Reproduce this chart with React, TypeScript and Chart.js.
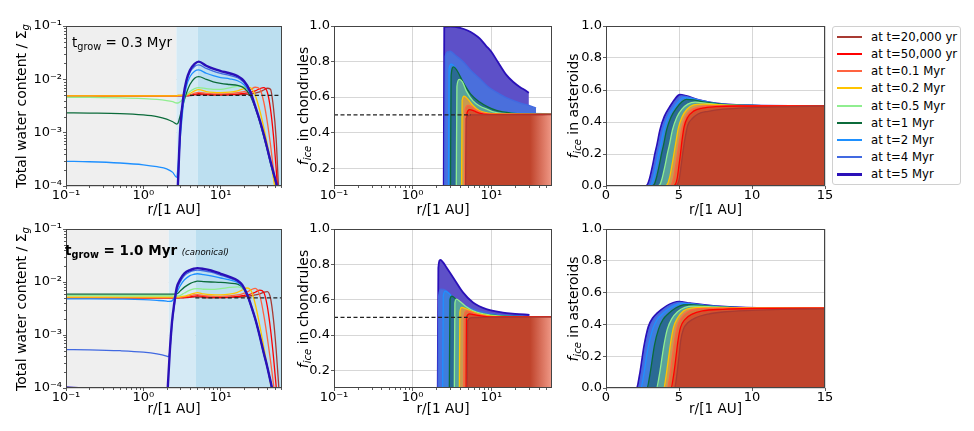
import { useEffect, useRef } from 'react';
import { Chart, registerables } from 'chart.js';

Chart.register(...registerables);

const FONT = '"DejaVu Sans", "Liberation Sans", sans-serif';
Chart.defaults.font.family = FONT;

// ---------- snapshots (oldest first) ----------
const SERIES_LABELS = [
  'at t=20,000 yr',
  'at t=50,000 yr',
  'at t=0.1 Myr',
  'at t=0.2 Myr',
  'at t=0.5 Myr',
  'at t=1 Myr',
  'at t=2 Myr',
  'at t=4 Myr',
  'at t=5 Myr',
];
const LINE_COLORS = ['#a83a32', '#ff0000', '#ff6340', '#ffc400', '#90ee90', '#0b6b3a', '#1e90ff', '#4169e1', '#2a10b8'];
const BAND_COLORS = ['#c0442c', '#d4532f', '#d9743f', '#c99a50', '#58a39c', '#2b6a94', '#3f7ddc', '#4a6fdc', '#5d50c8'];

// ---------- total water content / Σg, t_grow = 0.3 Myr ----------
const WATER_R_03 = [0.1, 0.2, 0.5, 1, 1.5, 2, 2.4, 2.7, 2.8, 3.0, 3.3, 3.6, 4.0, 4.6, 5.2, 6.5, 8, 10, 13, 16.5, 20, 24, 28, 32, 36, 40, 44, 48, 52, 56, 60];
const WATER_03 = [
  [4.9e-3, 4.9e-3, 4.9e-3, 4.9e-3, 4.9e-3, 4.9e-3, 4.9e-3, 4.9e-3, 4.9e-3, 4.9e-3, 4.9e-3, 4.9e-3, 4.95e-3, 5.1e-3, 5.2e-3, 5.1e-3, 5.05e-3, 5.05e-3, 5.1e-3, 5.15e-3, 5.2e-3, 5.3e-3, 5.5e-3, 5.8e-3, 6.3e-3, 6.8e-3, 6.5e-3, 3.0e-3, 8.0e-4, 9.0e-5, 2.0e-5],
  [4.9e-3, 4.9e-3, 4.9e-3, 4.9e-3, 4.9e-3, 4.9e-3, 4.9e-3, 4.9e-3, 4.95e-3, 4.95e-3, 4.95e-3, 4.95e-3, 5.0e-3, 5.25e-3, 5.4e-3, 5.25e-3, 5.15e-3, 5.15e-3, 5.2e-3, 5.3e-3, 5.45e-3, 5.7e-3, 6.1e-3, 6.7e-3, 7.0e-3, 5.8e-3, 2.8e-3, 9.0e-4, 2.2e-4, 5.0e-5, 1.0e-5],
  [4.9e-3, 4.9e-3, 4.9e-3, 4.9e-3, 4.9e-3, 4.9e-3, 4.9e-3, 4.9e-3, 5.0e-3, 5.0e-3, 5.0e-3, 5.0e-3, 5.1e-3, 5.5e-3, 5.7e-3, 5.45e-3, 5.35e-3, 5.35e-3, 5.4e-3, 5.6e-3, 5.9e-3, 6.4e-3, 7.1e-3, 6.6e-3, 3.8e-3, 1.6e-3, 6.0e-4, 2.1e-4, 7.0e-5, 2.0e-5, 1.0e-5],
  [4.9e-3, 4.9e-3, 4.9e-3, 4.9e-3, 4.9e-3, 4.9e-3, 4.9e-3, 4.9e-3, 5.0e-3, 5.0e-3, 5.05e-3, 5.1e-3, 5.4e-3, 6.1e-3, 6.4e-3, 5.9e-3, 5.7e-3, 5.65e-3, 5.75e-3, 6.1e-3, 6.7e-3, 7.0e-3, 5.0e-3, 2.6e-3, 1.25e-3, 6.0e-4, 3.0e-4, 1.4e-4, 6.0e-5, 2.0e-5, 1.0e-5],
  [4.6e-3, 4.6e-3, 4.5e-3, 4.35e-3, 4.2e-3, 4.0e-3, 3.8e-3, 3.6e-3, 3.6e-3, 3.8e-3, 4.4e-3, 5.1e-3, 5.9e-3, 6.7e-3, 7.0e-3, 6.7e-3, 6.5e-3, 6.5e-3, 6.9e-3, 7.4e-3, 7.3e-3, 5.6e-3, 3.1e-3, 1.6e-3, 8.7e-4, 4.8e-4, 2.7e-4, 1.7e-4, 1.1e-4, 6.5e-5, 3.0e-5],
  [2.35e-3, 2.33e-3, 2.28e-3, 2.15e-3, 2.0e-3, 1.8e-3, 1.6e-3, 1.45e-3, 1.5e-3, 2.1e-3, 3.6e-3, 5.5e-3, 8.0e-3, 1.05e-2, 1.12e-2, 1.0e-2, 9.0e-3, 8.4e-3, 8.0e-3, 7.7e-3, 6.9e-3, 5.0e-3, 2.9e-3, 1.6e-3, 8.6e-4, 4.8e-4, 2.7e-4, 1.7e-4, 1.1e-4, 6.5e-5, 3.0e-5],
  [2.9e-4, 2.85e-4, 2.7e-4, 2.5e-4, 2.3e-4, 2.1e-4, 1.8e-4, 1.45e-4, 2.2e-4, 8.0e-4, 3.5e-3, 7.3e-3, 1.12e-2, 1.42e-2, 1.5e-2, 1.3e-2, 1.17e-2, 1.08e-2, 1.02e-2, 9.4e-3, 7.9e-3, 5.5e-3, 3.0e-3, 1.65e-3, 8.9e-4, 4.9e-4, 2.8e-4, 1.75e-4, 1.13e-4, 6.8e-5, 3.2e-5],
  [4e-5, 4e-5, 4e-5, 4e-5, 4e-5, 4e-5, 4e-5, 4e-5, 1.0e-4, 1.0e-3, 4.4e-3, 8.7e-3, 1.35e-2, 1.75e-2, 1.86e-2, 1.6e-2, 1.42e-2, 1.29e-2, 1.19e-2, 1.07e-2, 8.7e-3, 5.8e-3, 3.05e-3, 1.68e-3, 9.1e-4, 5.0e-4, 2.85e-4, 1.78e-4, 1.15e-4, 7.0e-5, 3.4e-5],
  [3e-5, 3e-5, 3e-5, 3e-5, 3e-5, 3e-5, 3e-5, 3e-5, 1.1e-4, 1.2e-3, 4.8e-3, 9.5e-3, 1.48e-2, 1.95e-2, 2.15e-2, 1.8e-2, 1.58e-2, 1.43e-2, 1.3e-2, 1.15e-2, 9.3e-3, 6.0e-3, 3.1e-3, 1.7e-3, 9.3e-4, 5.1e-4, 2.9e-4, 1.8e-4, 1.17e-4, 7.0e-5, 3.5e-5],
];
const WATER_ZONES_03 = [0.1, 2.68, 5.07, 62];
const WATER_REF_03 = [[4.0, 5e-3], [57, 5e-3]];

// ---------- total water content / Σg, t_grow = 1.0 Myr ----------
const WATER_R_10 = [0.1, 0.2, 0.5, 1, 1.5, 2.0, 2.1, 2.2, 2.35, 2.5, 2.7, 3.0, 3.4, 4.0, 4.5, 5.0, 6.0, 7.5, 10, 13, 16.5, 19, 22, 25, 28, 32, 36, 40, 44, 48, 52, 56, 60];
const WATER_10 = [
  [5.0e-3, 5.0e-3, 5.0e-3, 5.0e-3, 5.0e-3, 5.0e-3, 5.0e-3, 5.0e-3, 5.0e-3, 5.0e-3, 5.0e-3, 5.0e-3, 5.05e-3, 5.15e-3, 5.2e-3, 5.25e-3, 5.1e-3, 5.05e-3, 5.05e-3, 5.1e-3, 5.15e-3, 5.25e-3, 5.35e-3, 5.5e-3, 5.7e-3, 6.0e-3, 6.4e-3, 6.6e-3, 5.0e-3, 2.0e-3, 5.5e-4, 1.2e-4, 2.0e-5],
  [5.0e-3, 5.0e-3, 5.0e-3, 5.0e-3, 5.0e-3, 5.0e-3, 5.0e-3, 5.0e-3, 5.0e-3, 5.0e-3, 5.0e-3, 5.05e-3, 5.1e-3, 5.25e-3, 5.4e-3, 5.5e-3, 5.3e-3, 5.2e-3, 5.15e-3, 5.2e-3, 5.35e-3, 5.5e-3, 5.7e-3, 6.0e-3, 6.4e-3, 7.0e-3, 6.4e-3, 3.5e-3, 1.3e-3, 4.0e-4, 1.1e-4, 3.0e-5, 1.0e-5],
  [5.1e-3, 5.1e-3, 5.1e-3, 5.1e-3, 5.1e-3, 5.1e-3, 5.1e-3, 5.1e-3, 5.1e-3, 5.1e-3, 5.1e-3, 5.15e-3, 5.25e-3, 5.5e-3, 5.7e-3, 5.8e-3, 5.55e-3, 5.4e-3, 5.35e-3, 5.45e-3, 5.7e-3, 6.0e-3, 6.5e-3, 7.2e-3, 7.6e-3, 5.6e-3, 2.4e-3, 9.0e-4, 3.3e-4, 1.2e-4, 4.0e-5, 1.0e-5, 1.0e-5],
  [5.2e-3, 5.2e-3, 5.2e-3, 5.2e-3, 5.2e-3, 5.2e-3, 5.2e-3, 5.2e-3, 5.2e-3, 5.2e-3, 5.2e-3, 5.25e-3, 5.4e-3, 5.8e-3, 6.1e-3, 6.3e-3, 5.95e-3, 5.75e-3, 5.7e-3, 5.9e-3, 6.4e-3, 7.1e-3, 7.7e-3, 6.6e-3, 3.8e-3, 1.5e-3, 6.0e-4, 2.6e-4, 1.2e-4, 5.0e-5, 2.0e-5, 1.0e-5, 1.0e-5],
  [5.55e-3, 5.55e-3, 5.5e-3, 5.5e-3, 5.5e-3, 5.5e-3, 5.5e-3, 5.5e-3, 5.5e-3, 5.45e-3, 5.45e-3, 5.6e-3, 6.2e-3, 7.0e-3, 7.4e-3, 7.5e-3, 7.3e-3, 7.25e-3, 7.5e-3, 7.9e-3, 8.1e-3, 7.6e-3, 5.9e-3, 3.7e-3, 2.1e-3, 1.0e-3, 4.8e-4, 2.5e-4, 1.35e-4, 7.0e-5, 4.0e-5, 2.0e-5, 1.0e-5],
  [5.9e-3, 5.9e-3, 5.9e-3, 5.9e-3, 5.9e-3, 5.9e-3, 5.9e-3, 5.9e-3, 5.9e-3, 5.92e-3, 5.95e-3, 6.8e-3, 8.0e-3, 9.3e-3, 1.0e-2, 1.04e-2, 1.02e-2, 1.0e-2, 9.8e-3, 9.5e-3, 9.1e-3, 8.0e-3, 5.6e-3, 3.4e-3, 2.0e-3, 9.5e-4, 4.6e-4, 2.5e-4, 1.35e-4, 7.5e-5, 4.0e-5, 2.0e-5, 1.0e-5],
  [4.8e-3, 4.8e-3, 4.75e-3, 4.65e-3, 4.5e-3, 4.35e-3, 4.3e-3, 4.3e-3, 4.4e-3, 5.0e-3, 6.3e-3, 8.5e-3, 1.1e-2, 1.32e-2, 1.4e-2, 1.43e-2, 1.38e-2, 1.3e-2, 1.19e-2, 1.1e-2, 9.8e-3, 8.2e-3, 5.6e-3, 3.3e-3, 1.95e-3, 9.2e-4, 4.5e-4, 2.4e-4, 1.3e-4, 7.0e-5, 4.0e-5, 2.0e-5, 1.0e-5],
  [5.3e-4, 5.25e-4, 5.05e-4, 4.75e-4, 4.4e-4, 4.0e-4, 3.9e-4, 5.0e-4, 1.6e-3, 3.4e-3, 6.8e-3, 1.0e-2, 1.32e-2, 1.55e-2, 1.64e-2, 1.67e-2, 1.63e-2, 1.53e-2, 1.34e-2, 1.18e-2, 1.02e-2, 8.5e-3, 5.7e-3, 3.3e-3, 1.95e-3, 9.3e-4, 4.5e-4, 2.45e-4, 1.3e-4, 7.0e-5, 4.0e-5, 2.0e-5, 1.0e-5],
  [1.02e-4, 9.6e-5, 8.5e-5, 7.2e-5, 6.2e-5, 5.5e-5, 1.5e-4, 5.0e-4, 1.8e-3, 3.8e-3, 7.8e-3, 1.12e-2, 1.45e-2, 1.68e-2, 1.78e-2, 1.83e-2, 1.77e-2, 1.65e-2, 1.43e-2, 1.25e-2, 1.07e-2, 8.8e-3, 5.8e-3, 3.4e-3, 2.0e-3, 9.5e-4, 4.6e-4, 2.5e-4, 1.35e-4, 7.5e-5, 4.0e-5, 2.0e-5, 1.0e-5],
];
const WATER_ZONES_10 = [0.1, 2.13, 4.73, 62];
const WATER_REF_10 = [[4.7, 5e-3], [60, 5e-3]];

// ---------- f_ice in chondrules: [r, f_ice] ----------
const CHOND_03 = [
  [[4.7, 0.05], [4.78, 0.48], [5.5, 0.5], [8, 0.5], [40, 0.5], [59, 0.502]],
  [[4.83, 0.05], [4.9, 0.51], [5.3, 0.53], [6, 0.522], [7, 0.51], [9, 0.503], [59, 0.503]],
  [[4.58, 0.05], [4.65, 0.53], [5.05, 0.553], [5.6, 0.545], [6.5, 0.525], [8, 0.51], [11, 0.503], [59, 0.503]],
  [[4.18, 0.05], [4.25, 0.58], [4.5, 0.606], [5, 0.59], [5.8, 0.555], [7, 0.525], [9, 0.51], [12, 0.505], [59, 0.503]],
  [[3.58, 0.05], [3.65, 0.66], [3.9, 0.7], [4.3, 0.685], [4.8, 0.635], [5.8, 0.58], [7.1, 0.55], [9, 0.53], [11, 0.515], [18, 0.505], [59, 0.503]],
  [[3.02, 0.05], [3.08, 0.72], [3.3, 0.77], [3.6, 0.755], [4.36, 0.685], [5.5, 0.615], [7.1, 0.572], [9, 0.545], [11.6, 0.525], [18, 0.51], [30, 0.505], [59, 0.503]],
  [[2.85, 0.05], [2.9, 0.76], [3.1, 0.785], [3.4, 0.77], [4, 0.71], [5, 0.63], [6, 0.585], [7.5, 0.55], [10, 0.53], [14, 0.515], [20, 0.51], [30, 0.508], [59, 0.506]],
  [[2.55, 0.05], [2.6, 0.83], [2.8, 0.855], [3.0, 0.858], [3.5, 0.835], [4.36, 0.8], [5.5, 0.75], [7.1, 0.705], [9, 0.66], [11.6, 0.628], [15, 0.6], [18.8, 0.582], [24, 0.565], [30, 0.553], [37, 0.538]],
  [[2.48, 0.05], [2.52, 0.995], [3, 0.997], [4, 0.99], [5, 0.975], [6, 0.955], [7.1, 0.93], [8.5, 0.89], [10, 0.855], [12, 0.8], [15.5, 0.725], [19, 0.685], [23, 0.657], [27, 0.638], [30, 0.625]],
];
const CHOND_REF_03 = [[0.1, 0.5], [5.5, 0.5]];

const CHOND_10 = [
  [[4.92, 0.05], [5, 0.48], [5.6, 0.498], [8, 0.5], [59, 0.502]],
  [[4.77, 0.05], [4.83, 0.5], [5.3, 0.52], [6, 0.515], [8, 0.505], [12, 0.502], [59, 0.503]],
  [[4.45, 0.05], [4.52, 0.51], [4.85, 0.537], [5.4, 0.532], [6.5, 0.518], [9, 0.506], [15, 0.503], [59, 0.503]],
  [[3.92, 0.05], [3.98, 0.53], [4.2, 0.556], [4.7, 0.55], [5.5, 0.535], [7, 0.518], [10, 0.507], [20, 0.503], [59, 0.503]],
  [[3.38, 0.05], [3.44, 0.58], [3.6, 0.603], [4, 0.59], [4.8, 0.56], [6, 0.535], [8, 0.52], [12, 0.508], [20, 0.504], [59, 0.503]],
  [[2.92, 0.05], [2.98, 0.6], [3.15, 0.62], [3.5, 0.605], [4.2, 0.57], [5.5, 0.54], [8, 0.52], [12, 0.51], [20, 0.505], [59, 0.503]],
  [[2.4, 0.05], [2.45, 0.62], [2.6, 0.648], [2.9, 0.635], [3.4, 0.6], [4.2, 0.567], [5.5, 0.54], [8, 0.52], [12, 0.51], [20, 0.505], [59, 0.503]],
  [[2.1, 0.05], [2.14, 0.62], [2.3, 0.66], [2.6, 0.655], [3, 0.63], [3.5, 0.6], [4.5, 0.57], [6, 0.545], [9, 0.525], [14, 0.513], [25, 0.506], [40, 0.503], [59, 0.503]],
  [[2.08, 0.05], [2.12, 0.78], [2.25, 0.825], [2.45, 0.81], [2.68, 0.784], [3.25, 0.727], [4.36, 0.641], [5.84, 0.584], [8.64, 0.546], [14, 0.527], [20, 0.52], [30.5, 0.514]],
];
const CHOND_REF_10 = [[0.1, 0.5], [5, 0.5]];

// ---------- f_ice in asteroids: [r, f_ice] ----------
const AST_03 = [
  [[0, 0], [4.7, 0], [4.9, 0.01], [5.03, 0.05], [5.15, 0.13], [5.25, 0.2], [5.38, 0.28], [5.6, 0.38], [5.9, 0.42], [6.3, 0.45], [7, 0.467], [8, 0.48], [10, 0.49], [12, 0.495], [15, 0.5]],
  [[0, 0], [4.55, 0], [4.75, 0.01], [4.88, 0.05], [5.0, 0.13], [5.1, 0.2], [5.2, 0.28], [5.35, 0.37], [5.6, 0.43], [6, 0.468], [6.6, 0.487], [7.5, 0.496], [9, 0.5], [15, 0.5]],
  [[0, 0], [4.3, 0], [4.5, 0.01], [4.63, 0.05], [4.78, 0.13], [4.9, 0.2], [5.02, 0.27], [5.2, 0.36], [5.45, 0.43], [5.8, 0.472], [6.3, 0.492], [7, 0.5], [8.5, 0.502], [15, 0.5]],
  [[0, 0], [4.0, 0], [4.2, 0.01], [4.35, 0.05], [4.52, 0.13], [4.65, 0.2], [4.78, 0.27], [4.95, 0.36], [5.2, 0.43], [5.55, 0.48], [6, 0.507], [6.6, 0.512], [7.5, 0.508], [9, 0.503], [15, 0.5]],
  [[0, 0], [3.5, 0], [3.7, 0.01], [3.85, 0.05], [4.05, 0.13], [4.2, 0.2], [4.35, 0.26], [4.55, 0.35], [4.85, 0.43], [5.2, 0.48], [5.6, 0.512], [6.1, 0.524], [6.9, 0.517], [8, 0.507], [10, 0.502], [15, 0.5]],
  [[0, 0], [3.1, 0], [3.3, 0.01], [3.45, 0.05], [3.65, 0.13], [3.8, 0.2], [3.95, 0.26], [4.15, 0.35], [4.45, 0.43], [4.85, 0.49], [5.2, 0.527], [5.5, 0.542], [6, 0.538], [6.8, 0.524], [8, 0.51], [10, 0.503], [15, 0.5]],
  [[0, 0], [2.9, 0], [3.1, 0.01], [3.25, 0.05], [3.45, 0.13], [3.6, 0.2], [3.75, 0.26], [3.95, 0.35], [4.25, 0.43], [4.65, 0.49], [5.0, 0.53], [5.3, 0.552], [5.75, 0.548], [6.6, 0.53], [7.7, 0.513], [9.9, 0.503], [15, 0.5]],
  [[0, 0], [2.75, 0], [2.95, 0.01], [3.1, 0.05], [3.3, 0.13], [3.45, 0.2], [3.6, 0.26], [3.8, 0.35], [4.1, 0.43], [4.5, 0.495], [4.85, 0.54], [5.15, 0.563], [5.6, 0.557], [6.5, 0.535], [7.6, 0.515], [9.9, 0.503], [15, 0.5]],
  [[0, 0], [2.65, 0], [2.85, 0.01], [3.0, 0.05], [3.2, 0.13], [3.35, 0.2], [3.5, 0.26], [3.7, 0.35], [4.0, 0.435], [4.4, 0.5], [4.75, 0.547], [5.05, 0.571], [5.5, 0.563], [6.4, 0.537], [7.6, 0.516], [9.9, 0.503], [15, 0.5]],
];

const AST_10 = [
  [[0, 0], [4.7, 0], [4.85, 0.08], [5.0, 0.2], [5.12, 0.3], [5.3, 0.37], [5.6, 0.41], [6.1, 0.44], [7, 0.465], [8, 0.478], [10, 0.488], [12, 0.494], [15, 0.498]],
  [[0, 0], [4.45, 0], [4.63, 0.08], [4.8, 0.2], [4.92, 0.29], [5.1, 0.38], [5.4, 0.43], [5.9, 0.465], [6.6, 0.485], [8, 0.495], [10, 0.5], [15, 0.502]],
  [[0, 0], [4.2, 0], [4.38, 0.08], [4.55, 0.2], [4.67, 0.28], [4.87, 0.38], [5.15, 0.44], [5.6, 0.48], [6.2, 0.497], [7.2, 0.502], [15, 0.503]],
  [[0, 0], [3.95, 0], [4.12, 0.08], [4.3, 0.2], [4.42, 0.28], [4.62, 0.38], [4.9, 0.44], [5.3, 0.485], [5.8, 0.503], [6.5, 0.507], [8, 0.505], [15, 0.503]],
  [[0, 0], [3.45, 0], [3.65, 0.08], [3.85, 0.2], [3.97, 0.27], [4.2, 0.37], [4.5, 0.435], [4.9, 0.48], [5.4, 0.507], [6, 0.515], [7, 0.512], [8.5, 0.506], [15, 0.503]],
  [[0, 0], [2.8, 0], [3.0, 0.08], [3.2, 0.2], [3.32, 0.27], [3.6, 0.37], [3.9, 0.43], [4.3, 0.47], [4.8, 0.505], [5.3, 0.523], [5.8, 0.525], [6.6, 0.518], [8, 0.51], [10, 0.504], [15, 0.503]],
  [[0, 0], [2.38, 0], [2.58, 0.08], [2.78, 0.2], [2.9, 0.26], [3.2, 0.37], [3.5, 0.43], [3.85, 0.465], [4.4, 0.505], [4.85, 0.525], [5.2, 0.532], [5.9, 0.527], [7.4, 0.514], [9.6, 0.505], [15, 0.503]],
  [[0, 0], [2.2, 0], [2.4, 0.08], [2.6, 0.2], [2.7, 0.26], [3.0, 0.38], [3.3, 0.435], [3.6, 0.465], [4.2, 0.51], [4.65, 0.53], [5.05, 0.538], [5.8, 0.53], [7.4, 0.515], [9.6, 0.506], [15, 0.503]],
  [[0, 0], [2.1, 0], [2.3, 0.08], [2.5, 0.2], [2.6, 0.26], [2.9, 0.385], [3.2, 0.44], [3.5, 0.47], [4.15, 0.516], [4.6, 0.535], [5.0, 0.543], [5.75, 0.533], [7.35, 0.516], [9.6, 0.506], [15, 0.503]],
];

// ---------- ticks ----------
const R_LOG_TICKS = [0.1, 1, 10];
const R_LOG_LABELS = ['10⁻¹', '10⁰', '10¹'];
const WATER_TICKS = [1e-4, 1e-3, 1e-2, 1e-1];
const WATER_LABELS = ['10⁻⁴', '10⁻³', '10⁻²', '10⁻¹'];
const CHOND_TICKS = [0.2, 0.4, 0.6, 0.8, 1.0];
const CHOND_LABELS = ['0.2', '0.4', '0.6', '0.8', '1.0'];
const AST_X_TICKS = [0, 5, 10, 15];
const AST_X_LABELS = ['0', '5', '10', '15'];
const AST_Y_TICKS = [0, 0.2, 0.4, 0.6, 0.8, 1.0];
const AST_Y_LABELS = ['0.0', '0.2', '0.4', '0.6', '0.8', '1.0'];

// ---------- layout ----------
const PAD_L = 60;
const PAD_T = 12;
const PAD_R = 14;
const PAD_B = 30;
const ZONE_COLORS = ['#efefef', '#d5eaf5', '#bcdff0'];

type Kind = 'water' | 'chond' | 'ast';
type Pt = { x: number; y: number };
interface PanelSpec {
  id: string;
  kind: Kind;
  rect: [number, number, number, number];
  lines: Pt[][];
  ref: Pt[];
  xMax: number;
  zones?: number[];
}

const pairs = (arr: number[][]): Pt[] => arr.map(([x, y]) => ({ x, y }));
const onGrid = (rs: number[], vs: number[]): Pt[] => rs.map((x, i) => ({ x, y: vs[i] }));

const PANELS: PanelSpec[] = [
  { id: 'w03', kind: 'water', rect: [66, 26, 282, 186], lines: WATER_03.map((v) => onGrid(WATER_R_03, v)), ref: pairs(WATER_REF_03), xMax: 62, zones: WATER_ZONES_03 },
  { id: 'c03', kind: 'chond', rect: [334, 26, 552, 186], lines: CHOND_03.map(pairs), ref: pairs(CHOND_REF_03), xMax: 59 },
  { id: 'a03', kind: 'ast', rect: [606, 26, 825, 186], lines: AST_03.map(pairs), ref: [], xMax: 15 },
  { id: 'w10', kind: 'water', rect: [66, 229, 282, 388], lines: WATER_10.map((v) => onGrid(WATER_R_10, v)), ref: pairs(WATER_REF_10), xMax: 62, zones: WATER_ZONES_10 },
  { id: 'c10', kind: 'chond', rect: [334, 229, 552, 388], lines: CHOND_10.map(pairs), ref: pairs(CHOND_REF_10), xMax: 59 },
  { id: 'a10', kind: 'ast', rect: [606, 229, 825, 388], lines: AST_10.map(pairs), ref: [], xMax: 15 },
];

// shaded radial zones behind the water-content curves
const zonesPlugin = {
  id: 'zones',
  beforeDatasetsDraw(chart: any, _args: any, opts: any) {
    if (!opts || !opts.edges) return;
    const { ctx, chartArea: a, scales } = chart;
    const x = scales.x;
    ctx.save();
    for (let i = 0; i < opts.edges.length - 1; i++) {
      const x0 = Math.max(a.left, x.getPixelForValue(opts.edges[i]));
      const x1 = Math.min(a.right, x.getPixelForValue(opts.edges[i + 1]));
      ctx.fillStyle = ZONE_COLORS[i];
      ctx.fillRect(x0, a.top, x1 - x0, a.bottom - a.top);
    }
    ctx.restore();
  },
};

// minor log ticks and the axes frame
const framePlugin = {
  id: 'frame',
  afterDraw(chart: any) {
    const { ctx, chartArea: a, scales } = chart;
    ctx.save();
    ctx.strokeStyle = '#333';
    ctx.lineWidth = 0.8;
    const xs = scales.x;
    const ys = scales.y;
    const minor = [2, 3, 4, 5, 6, 7, 8, 9];
    if (xs.type === 'logarithmic') {
      for (const dec of [0.1, 1, 10]) {
        for (const m of minor) {
          const v = m * dec;
          if (v <= xs.min || v >= xs.max) continue;
          const px = Math.round(xs.getPixelForValue(v)) + 0.5;
          ctx.beginPath();
          ctx.moveTo(px, a.bottom);
          ctx.lineTo(px, a.bottom + 2);
          ctx.stroke();
        }
      }
    }
    if (ys.type === 'logarithmic') {
      for (const dec of [1e-4, 1e-3, 1e-2]) {
        for (const m of minor) {
          const v = m * dec;
          if (v <= ys.min || v >= ys.max) continue;
          const py = Math.round(ys.getPixelForValue(v)) + 0.5;
          ctx.beginPath();
          ctx.moveTo(a.left, py);
          ctx.lineTo(a.left - 2, py);
          ctx.stroke();
        }
      }
    }
    ctx.strokeStyle = '#444';
    ctx.lineWidth = 1;
    ctx.strokeRect(Math.round(a.left) + 0.5, Math.round(a.top) + 0.5, Math.round(a.right - a.left) - 1, Math.round(a.bottom - a.top) - 1);
    ctx.restore();
  },
};

function axis(type: string, min: number, max: number, ticks: number[], labels: string[], isX: boolean) {
  return {
    type,
    min,
    max,
    bounds: 'data',
    z: 1,
    grid: { color: 'rgba(0,0,0,0.2)', lineWidth: 0.8, drawTicks: true, tickLength: 3, tickColor: '#333', tickWidth: 0.8 },
    border: { display: false },
    ticks: {
      font: { family: FONT, size: 13, lineHeight: 1 },
      color: '#000',
      padding: isX ? 0 : 1,
      autoSkip: false,
      maxRotation: 0,
      minRotation: 0,
      callback: (_v: any, i: number) => labels[i],
    },
    afterBuildTicks: (s: any) => {
      s.ticks = ticks.map((value) => ({ value }));
    },
    afterFit: (s: any) => {
      if (isX) s.height = PAD_B;
      else s.width = PAD_L;
    },
  };
}

// the oldest band in the chondrule panels fades out toward the disc edge
const fadeFill = (ctx: any) => {
  const chart = ctx.chart;
  const a = chart.chartArea;
  if (!a) return BAND_COLORS[0];
  const g = chart.ctx.createLinearGradient(a.left, 0, a.right, 0);
  g.addColorStop(0, BAND_COLORS[0]);
  g.addColorStop(0.9, BAND_COLORS[0]);
  g.addColorStop(1, '#f09a88');
  return g;
};

function buildConfig(spec: PanelSpec): any {
  const { kind } = spec;
  const datasets: any[] = spec.lines.map((pts, i) => ({
    data: pts,
    borderColor: LINE_COLORS[i],
    backgroundColor: kind === 'chond' && i === 0 ? fadeFill : BAND_COLORS[i],
    borderWidth: i === 8 ? (kind === 'water' ? 2.4 : 1.8) : 1.3,
    pointRadius: 0,
    cubicInterpolationMode: 'monotone',
    fill: kind === 'water' ? false : kind === 'chond' ? 'start' : 'origin',
    order: kind === 'water' ? 8 - i : i,
  }));
  if (spec.ref.length) {
    datasets.push({
      data: spec.ref,
      borderColor: '#222',
      borderDash: [4, 2.5],
      borderWidth: 1.2,
      pointRadius: 0,
      fill: false,
      order: -1,
    });
  }
  const x =
    kind === 'ast'
      ? axis('linear', 0, 15, AST_X_TICKS, AST_X_LABELS, true)
      : axis('logarithmic', 0.1, spec.xMax, R_LOG_TICKS, R_LOG_LABELS, true);
  const y =
    kind === 'water'
      ? axis('logarithmic', 1e-4, 1e-1, WATER_TICKS, WATER_LABELS, false)
      : kind === 'chond'
      ? axis('linear', 0.1, 1.0, CHOND_TICKS, CHOND_LABELS, false)
      : axis('linear', 0, 1.0, AST_Y_TICKS, AST_Y_LABELS, false);
  return {
    type: 'line',
    data: { datasets },
    options: {
      responsive: false,
      animation: false,
      devicePixelRatio: 1,
      events: [],
      layout: { padding: { left: 0, top: PAD_T, right: PAD_R, bottom: 0 } },
      plugins: {
        legend: { display: false },
        tooltip: { enabled: false },
        zones: spec.zones ? { edges: spec.zones } : false,
      },
      scales: { x, y },
    },
    plugins: [zonesPlugin, framePlugin],
  };
}

function Panel({ spec }: { spec: PanelSpec }) {
  const ref = useRef<HTMLCanvasElement>(null);
  useEffect(() => {
    if (!ref.current) return;
    const chart = new Chart(ref.current, buildConfig(spec));
    return () => chart.destroy();
  }, [spec]);
  const [L, T, R, B] = spec.rect;
  return (
    <canvas
      ref={ref}
      width={R - L + PAD_L + PAD_R}
      height={B - T + PAD_T + PAD_B}
      style={{ position: 'absolute', left: L - PAD_L, top: T - PAD_T }}
    />
  );
}

const Sub = ({ children, italic }: { children: any; italic?: boolean }) => (
  <span style={{ fontSize: '72%', position: 'relative', top: '0.32em', fontStyle: italic ? 'italic' : undefined }}>{children}</span>
);

function VTitle({ cx, cy, children }: { cx: number; cy: number; children: any }) {
  return (
    <div
      style={{
        position: 'absolute',
        left: cx,
        top: cy,
        transform: 'translate(-50%, -50%) rotate(-90deg)',
        whiteSpace: 'nowrap',
        fontSize: 14,
        lineHeight: '16px',
      }}
    >
      {children}
    </div>
  );
}

function XTitle({ cx, cy }: { cx: number; cy: number }) {
  return (
    <div
      style={{
        position: 'absolute',
        left: cx,
        top: cy,
        transform: 'translate(-50%, -50%)',
        whiteSpace: 'nowrap',
        fontSize: 13.6,
        lineHeight: '16px',
      }}
    >
      r/[1 AU]
    </div>
  );
}

const LEGEND_Y0 = 36.7;
const LEGEND_DY = 17.2;

export default function App() {
  return (
    <div
      style={{
        position: 'fixed',
        left: 0,
        top: 0,
        width: 974,
        height: 431,
        background: '#fff',
        overflow: 'hidden',
        fontFamily: FONT,
        color: '#000',
      }}
    >
      {PANELS.map((p) => (
        <Panel key={p.id} spec={p} />
      ))}

      <VTitle cx={22} cy={106}>
        Total water content / Σ<Sub italic>g</Sub>
      </VTitle>
      <VTitle cx={22} cy={308.5}>
        Total water content / Σ<Sub italic>g</Sub>
      </VTitle>
      <VTitle cx={304} cy={106}>
        <i>f</i>
        <Sub italic>ice</Sub> in chondrules
      </VTitle>
      <VTitle cx={304} cy={308.5}>
        <i>f</i>
        <Sub italic>ice</Sub> in chondrules
      </VTitle>
      <VTitle cx={574} cy={106}>
        <i>f</i>
        <Sub italic>ice</Sub> in asteroids
      </VTitle>
      <VTitle cx={574} cy={308.5}>
        <i>f</i>
        <Sub italic>ice</Sub> in asteroids
      </VTitle>

      <XTitle cx={174} cy={209} />
      <XTitle cx={443} cy={209} />
      <XTitle cx={715.5} cy={209} />
      <XTitle cx={174} cy={408} />
      <XTitle cx={443} cy={408} />
      <XTitle cx={715.5} cy={408} />

      <div style={{ position: 'absolute', left: 72, top: 33.8, fontSize: 13.5, lineHeight: '16px', whiteSpace: 'nowrap' }}>
        t<Sub>grow</Sub> = 0.3 Myr
      </div>
      <div style={{ position: 'absolute', left: 65, top: 242.3, fontSize: 13.5, lineHeight: '16px', whiteSpace: 'nowrap', fontWeight: 'bold' }}>
        t<Sub>grow</Sub> = 1.0 Myr{' '}
        <span style={{ fontWeight: 'normal', fontStyle: 'italic', fontSize: 8.5 }}>(canonical)</span>
      </div>

      <div
        style={{
          position: 'absolute',
          left: 832,
          top: 26,
          width: 129,
          height: 159,
          border: '1px solid #d0d0d0',
          borderRadius: 3,
          boxSizing: 'border-box',
          background: '#fff',
        }}
      />
      {SERIES_LABELS.map((lab, i) => (
        <div
          key={lab}
          style={{
            position: 'absolute',
            left: 837,
            top: LEGEND_Y0 + i * LEGEND_DY - 8,
            height: 16,
            display: 'flex',
            alignItems: 'center',
            whiteSpace: 'nowrap',
          }}
        >
          <span style={{ display: 'inline-block', width: 25, height: i === 8 ? 2.6 : 2, background: LINE_COLORS[i] }} />
          <span style={{ marginLeft: 9, fontSize: 11.7, lineHeight: '16px' }}>{lab}</span>
        </div>
      ))}
    </div>
  );
}
